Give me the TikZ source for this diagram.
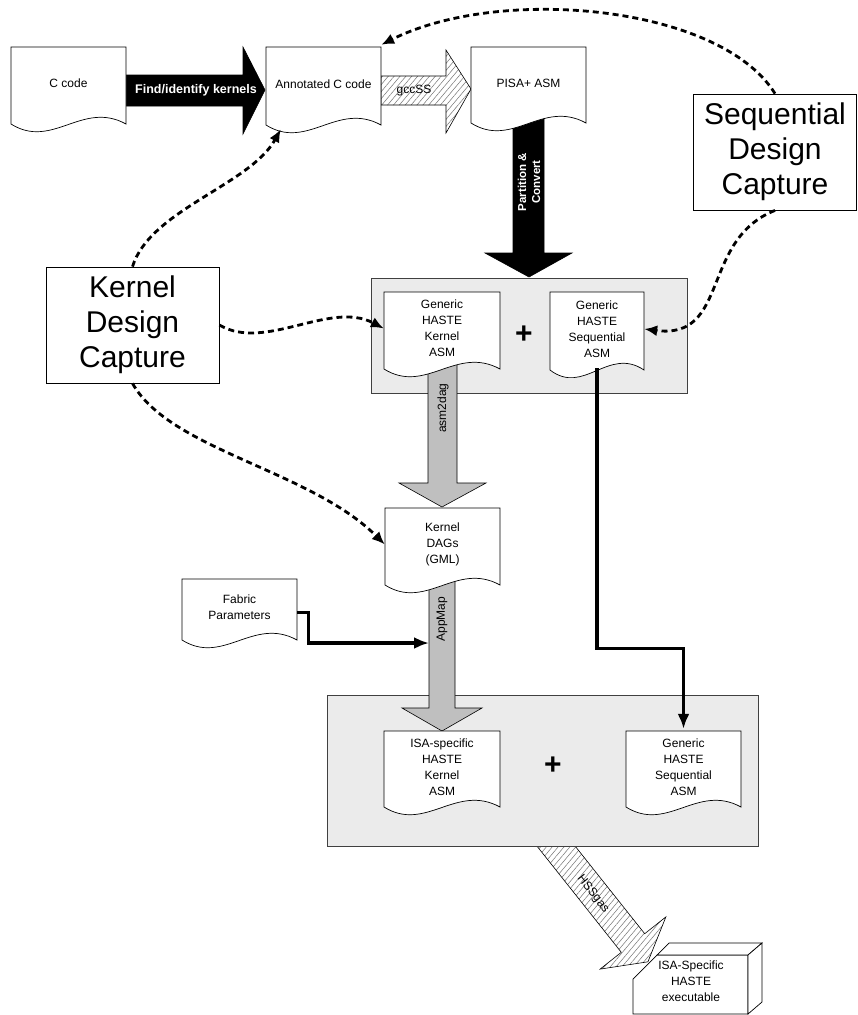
\documentclass[tikz,border=0pt]{standalone}
\usepackage{fontspec}
\setmainfont{Liberation Sans}
\usetikzlibrary{arrows.meta, patterns.meta, calc}

\tikzset{
  docline/.style={draw=black, fill=white, line width=0.7pt},
  doctext/.style={align=center, inner sep=0pt, font=\fontsize{12}{16}\selectfont},
  capbox/.style={draw=black, fill=white, line width=0.8pt, align=center, inner sep=0pt,
    font=\fontsize{30}{35}\selectfont},
  panel/.style={draw=black!75, fill=black!8, line width=0.8pt},
  blackarrow/.style={fill=black, draw=black, line width=0.6pt},
  greyarrow/.style={fill=black!25, draw=black, line width=0.6pt},
  hatcharrow/.style={preaction={fill=white}, draw=black, line width=0.6pt,
    pattern={Lines[angle=50, distance=4.5pt, line width=0.5pt]}, pattern color=black!55},
  capture/.style={-{Latex[length=13pt,width=11pt]}, line width=2.8pt, dash pattern=on 6pt off 4pt},
  flow/.style={-{Latex[length=15pt,width=12pt]}, line width=3.2pt},
  plus/.style={font=\fontsize{30}{30}\bfseries\selectfont, inner sep=0pt},
  arrowlbl/.style={font=\fontsize{12}{14}\selectfont, inner sep=0pt},
}

% document symbol: straight top and sides, wavy bottom edge
\newcommand{\docnode}[6]{%
  \draw[docline] (#2,#3) -- (#4,#3) -- (#4,#5)
    .. controls +({-0.38*(#4-#2)},-24) and +({0.36*(#4-#2)},26) .. (#2,#5) -- cycle;
  \node[doctext, minimum width={#4-#2}, minimum height={#5-#3}]
    (#1) at ({(#2+#4)/2},{(#3+#5)/2-2}) {#6};
}

\begin{document}
\begin{tikzpicture}[x=1pt, y=-1pt]
  \useasboundingbox (0,0) rectangle (857,1015);

  % HSSgas arrow, starts under the lower panel
  \draw[hatcharrow] (560.2,827.3) -- (644.7,933.7) -- (665.9,916.9) -- (647.9,961.8)
    -- (600.1,969.1) -- (621.3,952.3) -- (536.8,845.9) -- cycle;

  % panels
  \draw[panel] (371,278) rectangle (687,393);
  \draw[panel] (327,695) rectangle (758,846);

  % block arrows
  \draw[blackarrow] (126,75) -- (243,75) -- (243,47) -- (265,90) -- (243,134)
    -- (243,106) -- (126,106) -- cycle;
  \draw[hatcharrow] (381,76) -- (446,76) -- (446,50) -- (471,89) -- (446,133)
    -- (446,105) -- (381,105) -- cycle;
  \draw[blackarrow] (513,115) -- (544,115) -- (544,253) -- (572,253) -- (529,277)
    -- (485,253) -- (513,253) -- cycle;
  \draw[greyarrow] (428,360) -- (457,360) -- (457,483) -- (486,483) -- (442,507)
    -- (399,483) -- (428,483) -- cycle;
  \draw[greyarrow] (429,575) -- (455,575) -- (455,708) -- (482,708) -- (442,731)
    -- (402,708) -- (429,708) -- cycle;

  \node[arrowlbl, text=white, font=\fontsize{12.5}{14}\bfseries\selectfont] (findLbl) at (196,90) {Find/identify kernels};
  \node[arrowlbl] (gccLbl) at (414,91) {gccSS};
  \node[arrowlbl, text=white, align=center, rotate=90, font=\fontsize{11.5}{14}\bfseries\selectfont] (partLbl) at (529,182) {Partition \&\\Convert};
  \node[arrowlbl, rotate=90] (asmLbl) at (443,408) {asm2dag};
  \node[arrowlbl, rotate=90] (appLbl) at (442,619) {AppMap};
  \node[arrowlbl, rotate=-51.6] (hssLbl) at (593,894) {HSSgas};

  % documents
  \docnode{ccode}{11}{47}{126}{124}{C code}
  \docnode{annot}{266}{47}{381}{125}{Annotated C code}
  \docnode{pisa}{471}{47}{586}{123}{PISA+ ASM}
  \docnode{kernA}{384}{292}{500}{369}{Generic\\HASTE\\Kernel\\ASM}
  \docnode{seqA}{550}{292}{644}{370}{Generic\\HASTE\\Sequential\\ASM}
  \docnode{dags}{385}{508}{500}{585}{Kernel\\DAGs\\(GML)}
  \docnode{fabric}{182}{579}{297}{640}{Fabric\\Parameters}
  \docnode{isaK}{384}{731}{500}{807}{ISA-specific\\HASTE\\Kernel\\ASM}
  \docnode{seqB}{626}{731}{741}{807}{Generic\\HASTE\\Sequential\\ASM}

  \node[plus] (plusA) at (524,335) {+};
  \node[plus] (plusB) at (553,766) {+};

  % design capture boxes
  \node[capbox, minimum width=173, minimum height=116] (kdc) at (132.5,325) {Kernel\\Design\\Capture};
  \node[capbox, minimum width=163, minimum height=116] (sdc) at (775,152) {Sequential\\Design\\Capture};

  \coordinate (annotIn) at ([xshift=15pt,yshift=-6pt]annot.south west);
  \coordinate (appIn) at (429,643);

  % dashed capture links
  \draw[capture] (sdc.north) .. controls (720,5) and (500,-15) .. (annot.north east);
  \draw[capture] (sdc.south) .. controls (700,240) and (730,340) .. (seqA.east);
  \draw[capture] (kdc.north) .. controls (150,210) and (250,185) .. (annotIn);
  \draw[capture] (kdc.east) .. controls (265,352) and (330,300) .. (kernA.west);
  \draw[capture] (kdc.south) .. controls (170,450) and (310,470) .. (dags.west);

  % solid flow lines
  \draw[flow] (seqA.south) -- ++(0,280) -| (seqB.north);
  \draw[flow] ([yshift=-5pt]fabric.east) -- ++(11,0) |- (appIn);

  % executable box
  \draw[docline] (633,1014) -- (633,979) -- (657,955) -- (748,955) -- (748,1014) -- cycle;
  \draw[docline] (657,955) -- (669,943) -- (762,943) -- (748,955) -- cycle;
  \draw[docline] (748,955) -- (762,943) -- (762,1002) -- (748,1014) -- cycle;
  \node[doctext] (exe) at (691,981) {ISA-Specific\\HASTE\\executable};
\end{tikzpicture}
\end{document}
